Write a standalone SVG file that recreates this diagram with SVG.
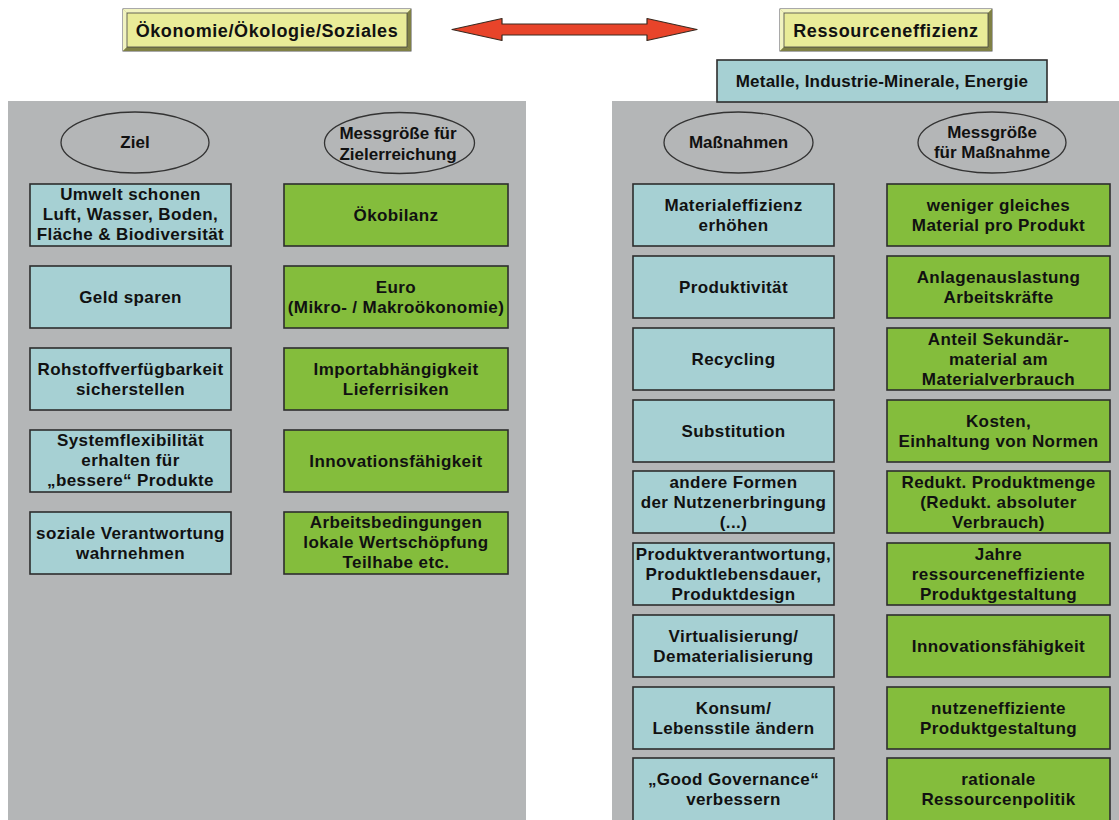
<svg xmlns="http://www.w3.org/2000/svg" width="1119" height="820" viewBox="0 0 1119 820">
<style>
text{font-family:"Liberation Sans",Arial,sans-serif;font-weight:bold;font-size:17px;fill:#111;text-anchor:middle;letter-spacing:0.4px}
.hd{font-size:18px;letter-spacing:0.6px}
.el{letter-spacing:0}
.panel{fill:#b4b6b7}
.b{fill:#a6d0d3;stroke:#2d2d2d;stroke-width:1.6}
.g{fill:#84bd3c;stroke:#2d2d2d;stroke-width:1.6}
.ov{fill:#b4b6b7;stroke:#333;stroke-width:1.3}
.bo{fill:#a9aa66;stroke:#555;stroke-width:1}
.bi{fill:#e9ec98;stroke:#444;stroke-width:0.8}
.bl{fill:#f1f3c0}
.bd{fill:#7f8045}
</style>
<rect width="1119" height="820" fill="#fff"/>
<rect class="panel" x="8" y="101" width="518" height="719"/>
<rect class="panel" x="612" y="101" width="507" height="719"/>

<g id="hdr-left">
<rect class="bo" x="123" y="9" width="288" height="42"/>
<polygon class="bl" points="123,9 411,9 407,13 127,13"/>
<polygon class="bl" points="123,9 127,13 127,47 123,51"/>
<polygon class="bd" points="123,51 127,47 407,47 411,51"/>
<polygon class="bd" points="411,9 411,51 407,47 407,13"/>
<rect class="bi" x="127" y="13" width="280" height="34"/>
<text class="hd" x="267" y="37">Ökonomie/Ökologie/Soziales</text>
</g>
<g id="hdr-right">
<rect class="bo" x="780" y="9" width="212" height="42"/>
<polygon class="bl" points="780,9 992,9 988,13 784,13"/>
<polygon class="bl" points="780,9 784,13 784,47 780,51"/>
<polygon class="bd" points="780,51 784,47 988,47 992,51"/>
<polygon class="bd" points="992,9 992,51 988,47 988,13"/>
<rect class="bi" x="784" y="13" width="204" height="34"/>
<text class="hd" x="886" y="37">Ressourceneffizienz</text>
</g>
<g id="connectors">
<polygon points="452,29.5 502,18.5 502,24 647,24 647,18.5 697,29.5 647,40.5 647,35 502,35 502,40.5" fill="#e8442a" stroke="#3a2a20" stroke-width="1.2" stroke-linejoin="round"/>
</g>
<g id="metalle">
<rect class="b" x="717" y="60" width="330" height="42"/>
<text x="882" y="87" style="letter-spacing:0.2px">Metalle, Industrie-Minerale, Energie</text>
</g>

<g id="ziel">
<ellipse class="ov" cx="135" cy="142.5" rx="74" ry="30.5"/>
<text class="el" x="135" y="148">Ziel</text>
</g>
<g id="messgroesse-ziel">
<ellipse class="ov" cx="399.5" cy="143" rx="75" ry="30.5"/>
<text class="el" x="398" y="139">Messgröße für</text>
<text class="el" x="398" y="160">Zielerreichung</text>
</g>
<g id="massnahmen">
<ellipse class="ov" cx="738.5" cy="142.5" rx="74.5" ry="30.5"/>
<text class="el" x="738.5" y="148">Maßnahmen</text>
</g>
<g id="messgroesse-massnahme">
<ellipse class="ov" cx="992" cy="142.5" rx="74" ry="30.5"/>
<text class="el" x="992" y="138">Messgröße</text>
<text class="el" x="992" y="158">für Maßnahme</text>
</g>

<!-- left: Ziel column -->
<g id="l1"><rect class="b" x="30" y="184" width="201" height="62"/>
<text x="130.5" y="200">Umwelt schonen</text><text x="130.5" y="220">Luft, Wasser, Boden,</text><text x="130.5" y="240">Fläche &amp; Biodiversität</text></g>
<g id="l2"><rect class="b" x="30" y="266" width="201" height="62"/>
<text x="130.5" y="302.5">Geld sparen</text></g>
<g id="l3"><rect class="b" x="30" y="348" width="201" height="62"/>
<text x="130.5" y="374.5">Rohstoffverfügbarkeit</text><text x="130.5" y="394.5">sicherstellen</text></g>
<g id="l4"><rect class="b" x="30" y="430" width="201" height="62"/>
<text x="130.5" y="446">Systemflexibilität</text><text x="130.5" y="466">erhalten für</text><text x="130.5" y="486">„bessere“ Produkte</text></g>
<g id="l5"><rect class="b" x="30" y="512" width="201" height="62"/>
<text x="130.5" y="538.5">soziale Verantwortung</text><text x="130.5" y="558.5">wahrnehmen</text></g>

<!-- left: Messgröße column -->
<g id="lg1"><rect class="g" x="284" y="184" width="224" height="62"/>
<text x="396" y="220.5">Ökobilanz</text></g>
<g id="lg2"><rect class="g" x="284" y="266" width="224" height="62"/>
<text x="396" y="292.5">Euro</text><text x="396" y="312.5">(Mikro- / Makroökonomie)</text></g>
<g id="lg3"><rect class="g" x="284" y="348" width="224" height="62"/>
<text x="396" y="374.5">Importabhängigkeit</text><text x="396" y="394.5">Lieferrisiken</text></g>
<g id="lg4"><rect class="g" x="284" y="430" width="224" height="62"/>
<text x="396" y="466.5">Innovationsfähigkeit</text></g>
<g id="lg5"><rect class="g" x="284" y="512" width="224" height="62"/>
<text x="396" y="528">Arbeitsbedingungen</text><text x="396" y="548">lokale Wertschöpfung</text><text x="396" y="568">Teilhabe etc.</text></g>

<!-- right: Maßnahmen column -->
<g id="r1"><rect class="b" x="633" y="184" width="201" height="62"/>
<text x="733.5" y="210.5">Materialeffizienz</text><text x="733.5" y="230.5">erhöhen</text></g>
<g id="r2"><rect class="b" x="633" y="256" width="201" height="62"/>
<text x="733.5" y="292.5">Produktivität</text></g>
<g id="r3"><rect class="b" x="633" y="328" width="201" height="62"/>
<text x="733.5" y="364.5">Recycling</text></g>
<g id="r4"><rect class="b" x="633" y="400" width="201" height="62"/>
<text x="733.5" y="436.5">Substitution</text></g>
<g id="r5"><rect class="b" x="633" y="471" width="201" height="62"/>
<text x="733.5" y="487.5">andere Formen</text><text x="733.5" y="507.5">der Nutzenerbringung</text><text x="733.5" y="527.5">(...)</text></g>
<g id="r6"><rect class="b" x="633" y="543" width="201" height="62"/>
<text x="733.5" y="559.5">Produktverantwortung,</text><text x="733.5" y="579.5">Produktlebensdauer,</text><text x="733.5" y="599.5">Produktdesign</text></g>
<g id="r7"><rect class="b" x="633" y="615" width="201" height="62"/>
<text x="733.5" y="641.5">Virtualisierung/</text><text x="733.5" y="661.5">Dematerialisierung</text></g>
<g id="r8"><rect class="b" x="633" y="687" width="201" height="62"/>
<text x="733.5" y="713.5">Konsum/</text><text x="733.5" y="733.5">Lebensstile ändern</text></g>
<g id="r9"><rect class="b" x="633" y="758" width="201" height="64"/>
<text x="733.5" y="784.5">„Good Governance“</text><text x="733.5" y="804.5">verbessern</text></g>

<!-- right: Messgröße column -->
<g id="rg1"><rect class="g" x="887" y="184" width="223" height="62"/>
<text x="998.5" y="210.5">weniger gleiches</text><text x="998.5" y="230.5">Material pro Produkt</text></g>
<g id="rg2"><rect class="g" x="887" y="256" width="223" height="62"/>
<text x="998.5" y="282.5">Anlagenauslastung</text><text x="998.5" y="302.5">Arbeitskräfte</text></g>
<g id="rg3"><rect class="g" x="887" y="328" width="223" height="62"/>
<text x="998.5" y="344.5">Anteil Sekundär-</text><text x="998.5" y="364.5">material am</text><text x="998.5" y="384.5">Materialverbrauch</text></g>
<g id="rg4"><rect class="g" x="887" y="400" width="223" height="62"/>
<text x="998.5" y="426.5">Kosten,</text><text x="998.5" y="446.5">Einhaltung von Normen</text></g>
<g id="rg5"><rect class="g" x="887" y="471" width="223" height="62"/>
<text x="998.5" y="487.5">Redukt. Produktmenge</text><text x="998.5" y="507.5">(Redukt. absoluter</text><text x="998.5" y="527.5">Verbrauch)</text></g>
<g id="rg6"><rect class="g" x="887" y="543" width="223" height="62"/>
<text x="998.5" y="559.5">Jahre</text><text x="998.5" y="579.5">ressourceneffiziente</text><text x="998.5" y="599.5">Produktgestaltung</text></g>
<g id="rg7"><rect class="g" x="887" y="615" width="223" height="62"/>
<text x="998.5" y="651.5">Innovationsfähigkeit</text></g>
<g id="rg8"><rect class="g" x="887" y="687" width="223" height="62"/>
<text x="998.5" y="713.5">nutzeneffiziente</text><text x="998.5" y="733.5">Produktgestaltung</text></g>
<g id="rg9"><rect class="g" x="887" y="758" width="223" height="64"/>
<text x="998.5" y="784.5">rationale</text><text x="998.5" y="804.5">Ressourcenpolitik</text></g>
</svg>
